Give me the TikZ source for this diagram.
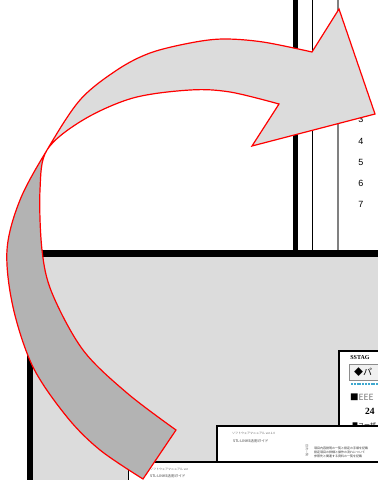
\documentclass[tikz,border=0pt]{standalone}
\usepackage{fontspec}
\setmainfont{Liberation Sans}
\newfontfamily\jpf{Noto Sans CJK JP}
\newfontfamily\serf{Liberation Serif}
\definecolor{lightg}{HTML}{DCDCDC}
\definecolor{darkg}{HTML}{B3B3B3}
\definecolor{rulegray}{HTML}{808080}
\definecolor{cyanline}{HTML}{3FA9D0}
\begin{document}
\begin{tikzpicture}[x=1pt,y=-1pt,
  arrowline/.style={draw=red, line width=1.2pt, line join=miter},
  numlabel/.style={inner sep=0pt, font=\fontsize{9}{9}\selectfont},
  docbox/.style={fill=white, draw=black, line width=1.5pt},
  tinytext/.style={inner sep=0pt, anchor=west, text=black!60, font=\jpf\fontsize{3}{3}\selectfont},
  smalltext/.style={inner sep=0pt, anchor=west, text=black!75, font=\jpf\fontsize{3.6}{3.6}\selectfont}]
\useasboundingbox (0,0) rectangle (378,480);
\fill[white] (0,0) rectangle (378,480);
% upper page rules
\fill[black] (293,0) rectangle (298,252);
\fill[black] (311.6,0) rectangle (313.2,252);
\fill[rulegray] (337.3,0) rectangle (338.8,252);
% row numbers
\node[numlabel] (n3) at (361,119) {3};
\node[numlabel] (n4) at (361,141) {4};
\node[numlabel] (n5) at (361,162) {5};
\node[numlabel] (n6) at (361,183) {6};
\node[numlabel] (n7) at (361,204) {7};
% lower panel
\fill[lightg] (33,257) rectangle (378,480);
\fill[black] (27,250) rectangle (378,257);
\fill[black] (27,250) rectangle (33,480);
% document 1
\path[docbox] (339,351) rectangle (390,445);
\node[inner sep=0pt, font=\serf\bfseries\fontsize{6}{6}\selectfont] (d1t) at (360,358) {SSTAG};
\path[fill=black!6, draw=black!45, line width=0.6pt] (349.5,364) rectangle (390,380);
\node[inner sep=0pt, anchor=west, font=\jpf\fontsize{9}{9}\selectfont] (d1a) at (354,372) {◆パ};
\draw[cyanline, line width=1.2pt, dash pattern=on 2pt off 0.8pt] (351,384) -- (380,384);
\node[inner sep=0pt, anchor=west, font=\jpf\fontsize{8.5}{8.5}\selectfont] (d1b) at (350,397) {■\textcolor{black!55}{EEE}};
\node[inner sep=0pt, anchor=west, font=\serf\bfseries\fontsize{9.5}{9.5}\selectfont] (d1c) at (365,411) {24};
\node[inner sep=0pt, anchor=west, font=\jpf\fontsize{6}{6}\selectfont] (d1d) at (352,425) {■ユーザ};
% document 2
\path[docbox] (217,426) rectangle (390,461.5);
\node[tinytext] (d2a) at (232,433) {ソフトウェアマニュアル ver.1.0};
\node[smalltext] (d2b) at (233,441) {STL-LINKS活用ガイド};
\node[tinytext, rotate=-90] (d2c) at (307,444) {目次一覧};
\node[tinytext, text=black!80] (d2d) at (314,448) {項目内容説明の一覧と設定の手順を記載};
\node[tinytext, text=black!80] (d2e) at (314,452) {設定項目の詳細と操作の流れについて};
\node[tinytext, text=black!80] (d2f) at (314,456) {参照先と関連する資料の一覧を記載};
% document 3
\path[docbox, line width=1.3pt] (128.5,462) rectangle (390,490);
\node[tinytext] (d3a) at (150,469) {ソフトウェアマニュアル ver};
\node[smalltext] (d3b) at (150,476) {STL-LINKS活用ガイド};
% curved arrow
\path[save path=\arrowp]
  plot[smooth, tension=0.55] coordinates {(143,479) (100,450) (67,417) (33,367) (13,307) (7,250) (20,200) (47,150) (80,100) (117,70) (150,53) (190,43) (223,39) (263,42) (312,52)}
  -- (339,9) -- (375,114) -- (252,146) -- (279,104)
  -- plot[smooth, tension=0.55] coordinates {(279,104) (230,92) (190,90) (133,98) (83,120) (47,150) (40,190) (42,250) (52,293) (83,350) (127,393) (176,430)}
  -- cycle;
\path[use path=\arrowp, fill=lightg];
\begin{scope}
  \clip (0,150) rectangle (378,480);
  \path[use path=\arrowp, fill=darkg];
\end{scope}
\path[use path=\arrowp, arrowline];
\end{tikzpicture}
\end{document}
